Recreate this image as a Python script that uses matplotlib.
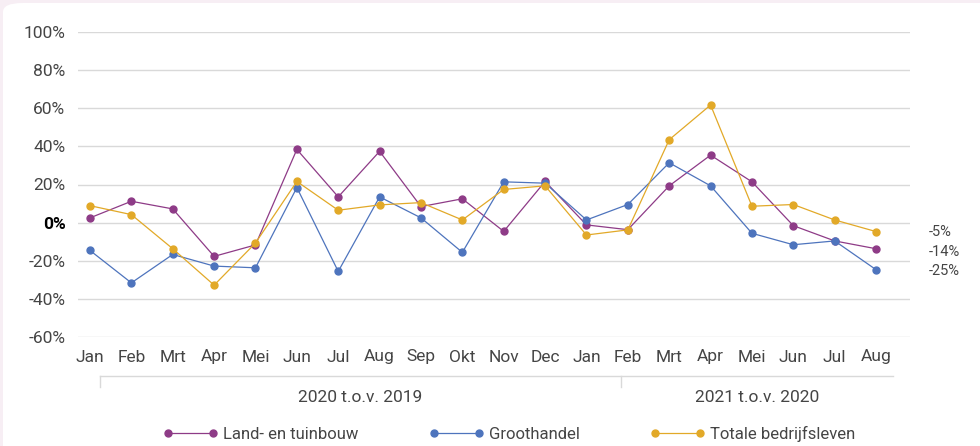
import matplotlib
matplotlib.use("Agg")
import matplotlib.pyplot as plt
from matplotlib.patches import FancyBboxPatch
import matplotlib.transforms as mtransforms

# maanden (2020 t.o.v. 2019 en 2021 t.o.v. 2020)
maanden = ["Jan", "Feb", "Mrt", "Apr", "Mei", "Jun", "Jul", "Aug", "Sep", "Okt",
           "Nov", "Dec", "Jan", "Feb", "Mrt", "Apr", "Mei", "Jun", "Jul", "Aug"]

land_tuinbouw = [2.5, 11.2, 7.2, -17.7, -11.7, 38.4, 13.5, 37.4, 8.4, 12.5,
                 -4.6, 21.6, -1.2, -3.7, 19.3, 35.4, 21.4, -1.6, -9.6, -13.7]
groothandel = [-14.6, -31.6, -16.7, -22.8, -23.7, 18.4, -25.6, 13.5, 2.5, -15.6,
               21.4, 20.7, 1.4, 9.5, 31.4, 19.3, -5.6, -11.6, -9.6, -24.7]
totaal = [8.9, 4.2, -13.7, -32.8, -10.7, 21.6, 6.5, 9.3, 10.5, 1.4,
          17.4, 19.3, -6.5, -3.8, 43.5, 61.7, 8.6, 9.5, 1.4, -4.7]

reeksen = ["Land- en tuinbouw", "Groothandel", "Totale bedrijfsleven"]
kleuren = ["#8e3b87", "#4e74bd", "#e2a928"]

groepen = ["2020 t.o.v. 2019", "2021 t.o.v. 2020"]
eind_labels = ["-5%", "-14%", "-25%"]

y_ticks = [-60, -40, -20, 0, 20, 40, 60, 80, 100]

plt.rcParams['font.family'] = ['Roboto', 'DejaVu Sans']
tekst_kleur = "#454545"
grid_kleur = "#d9d9d9"

fig = plt.figure(figsize=(9.8, 4.46), dpi=100)
fig.patch.set_facecolor("#f7eef4")

# witte achtergrond met afgeronde hoek
paneel = FancyBboxPatch((3 / 980, -0.05), 1.05, 1.05 - 3 / 446,
                        boxstyle="round,pad=0,rounding_size=0.02",
                        transform=fig.transFigure, facecolor="white",
                        edgecolor="none", zorder=-10)
fig.patches.append(paneel)

ax = fig.add_axes([78 / 980, 1 - 337 / 446, (910 - 78) / 980, 305 / 446])
ax.set_facecolor("none")
ax.set_zorder(1)

x = list(range(len(maanden)))
for waarden, naam, kleur in zip([land_tuinbouw, groothandel, totaal], reeksen, kleuren):
    ax.plot(x, waarden, color=kleur, lw=0.9, marker="o", markersize=5,
            label=naam, zorder=3, clip_on=False)

ax.set_ylim(-60, 100)
ax.set_xlim(-0.29, 19.82)
ax.set_yticks(y_ticks)
ax.set_yticklabels([f"{t}%" for t in y_ticks])
ax.set_xticks(x)
ax.set_xticklabels(maanden)
ax.tick_params(length=0, colors=tekst_kleur, labelsize=12.5)
ax.tick_params(axis="x", pad=9)
ax.tick_params(axis="y", pad=9)
for lbl in ax.get_yticklabels():
    if lbl.get_text() == "0%":
        lbl.set_fontweight("bold")
        lbl.set_color("black")

ax.grid(axis="y", color=grid_kleur, lw=1)
ax.set_axisbelow(True)
for s in ax.spines.values():
    s.set_visible(False)

# labels bij de laatste waarden
eind_y = [-4.7, -15.3, -25.3]
for lab, yy in zip(eind_labels, eind_y):
    ax.text(20.28, yy, lab, fontsize=10.5, color=tekst_kleur, va="center",
            ha="left", clip_on=False)

# groepering van de maanden
trans = mtransforms.blended_transform_factory(ax.transData, ax.transAxes)
links, scheiding, rechts = 0.24, 12.83, 19.41
ax.plot([links, rechts], [-0.1295, -0.1295], color=grid_kleur, lw=1,
        transform=trans, clip_on=False)
for xx in [links, scheiding]:
    ax.plot([xx, xx], [-0.1295, -0.164], color=grid_kleur, lw=1,
            transform=trans, clip_on=False)
ax.text((links + scheiding) / 2, -0.197, groepen[0], transform=trans,
        ha="center", va="center", fontsize=12.5, color=tekst_kleur)
ax.text((scheiding + rechts) / 2, -0.197, groepen[1], transform=trans,
        ha="center", va="center", fontsize=12.5, color=tekst_kleur)

leg = fig.legend(loc="center", bbox_to_anchor=(509 / 980, 1 - 434 / 446), ncol=3,
                 frameon=False, numpoints=2, handlelength=3.3, handletextpad=0.3,
                 columnspacing=4.2, fontsize=12)
for t in leg.get_texts():
    t.set_color(tekst_kleur)

fig.savefig("out.png", dpi=100, facecolor=fig.get_facecolor())
